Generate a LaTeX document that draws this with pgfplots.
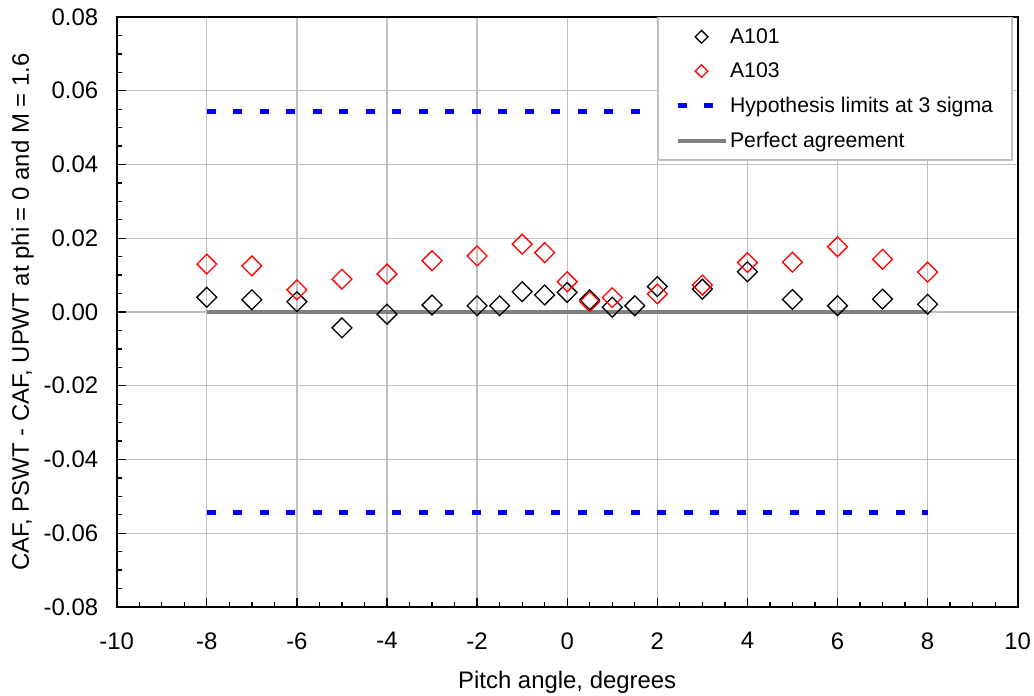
\documentclass[border=0pt]{standalone}
\usepackage{pgfplots}
\pgfplotsset{compat=1.18}
\usepackage{fontspec}
\setmainfont{Liberation Sans}
\newcommand{\ff}{\fontsize{24}{29}\selectfont}
\newcommand{\lf}{\fontsize{21.3}{25}\selectfont}
\definecolor{gridgray}{RGB}{192,192,192}
\definecolor{lgray}{RGB}{128,128,128}
\pgfplotsset{
  marklegend/.style={legend image code/.code={\draw[##1, mark size=4.5bp] plot coordinates {(24bp,0bp)};}},
  linelegend/.style={legend image code/.code={\draw[##1] (0bp,0bp) -- (48bp,0bp);}},
}
\begin{document}
\begin{tikzpicture}
\useasboundingbox (-116.7bp,-89bp) rectangle (917.3bp,607bp);
\begin{axis}[
  at={(0,0)}, anchor=south west,
  scale only axis, width=901bp, height=590bp,
  xmin=-10, xmax=10, ymin=-0.08, ymax=0.08,
  xtick={-10,-8,...,10},
  ytick={-0.08,-0.06,...,0.081},
  scaled y ticks=false,
  minor x tick num=3, minor y tick num=3,
  tick align=inside, tick pos=left,
  major tick length=9bp, minor tick length=5bp,
  every tick/.style={black, line width=1.3bp},
  grid=major,
  major grid style={gridgray, line width=1.3bp},
  axis line style={black, line width=1.8bp},
  /pgf/number format/assume math mode=true,
  yticklabel style={/pgf/number format/fixed, /pgf/number format/fixed zerofill, /pgf/number format/precision=2, font=\ff, xshift=-15bp},
  xticklabel style={font=\ff, yshift=-22bp},
  xlabel={Pitch angle, degrees},
  ylabel={CAF, PSWT - CAF, UPWT at phi = 0 and M = 1.6},
  xlabel style={font=\ff, yshift=-15bp},
  ylabel style={font=\ff, yshift=3bp},
  legend cell align=left,
  legend style={at={(1,1)}, anchor=north east, xshift=-5bp, draw=gridgray, line width=1.3bp, font=\lf,
    inner xsep=17bp, inner ysep=9bp, row sep=14bp,
    nodes={inner sep=2bp}},
]
\addplot[only marks, black, mark=square, mark size=7bp, mark options={rotate=45, line width=1.3bp}, marklegend]
coordinates {
(-8,0.0040) (-7,0.0033) (-6,0.0028) (-5,-0.0043) (-4,-0.0006) (-3,0.0019)
(-2,0.0017) (-1.5,0.0017) (-1,0.0055) (-0.5,0.0046) (0,0.0053) (0.5,0.0033)
(1,0.0013) (1.5,0.0017) (2,0.0069) (3,0.0062) (4,0.0109) (5,0.0034)
(6,0.0017) (7,0.0035) (8,0.0021)
};
\addlegendentry{A101}
\addplot[only marks, red, mark=square, mark size=7bp, mark options={rotate=45, line width=1.3bp}, marklegend]
coordinates {
(-8,0.0130) (-7,0.0125) (-6,0.0060) (-5,0.0089) (-4,0.0103) (-3,0.0139)
(-2,0.0152) (-1,0.0184) (-0.5,0.0161) (0,0.0082) (0.5,0.0028) (1,0.0039)
(2,0.0049) (3,0.0073) (4,0.0134) (5,0.0135) (6,0.0177) (7,0.0143) (8,0.0108)
};
\addlegendentry{A103}
\addplot[blue, line width=5bp, dash pattern=on 9bp off 17.5bp, no marks, linelegend]
coordinates {(-8,0.0545) (8,0.0545)};
\addlegendentry{Hypothesis limits at 3 sigma}
\addplot[lgray, line width=4bp, no marks, linelegend]
coordinates {(-8,0) (8,0)};
\addlegendentry{Perfect agreement}
\addplot[blue, line width=5bp, dash pattern=on 9bp off 17.5bp, no marks, forget plot]
coordinates {(-8,-0.0545) (8,-0.0545)};
\end{axis}
\end{tikzpicture}
\end{document}
